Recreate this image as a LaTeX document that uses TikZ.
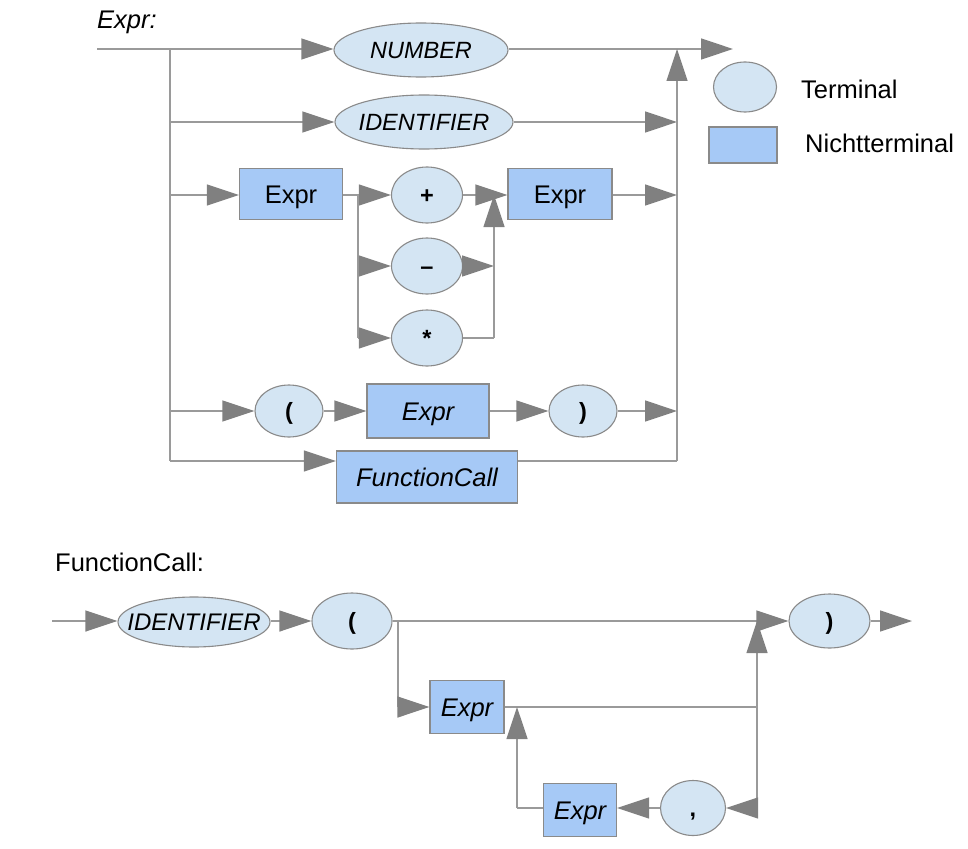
\documentclass[tikz,border=0pt]{standalone}
\usepackage{fontspec}
\setmainfont{Liberation Sans}
\usetikzlibrary{shapes.geometric,arrows.meta}
\definecolor{termfill}{HTML}{D4E5F3}
\definecolor{ntfill}{HTML}{A6C9F6}
\definecolor{bordergray}{HTML}{8A8A8A}
\definecolor{linegray}{HTML}{9A9A9A}
\definecolor{arrowgray}{HTML}{808080}
\begin{document}
\begin{tikzpicture}[x=1pt,y=-1pt,
  font=\fontsize{25.5}{30}\selectfont,
  term/.style={ellipse,draw=bordergray,fill=termfill,line width=1.1pt,inner sep=0pt,
    font=\fontsize{23.5}{27}\selectfont,text height=16.8pt,text depth=0pt},
  nterm/.style={rectangle,draw=bordergray,fill=ntfill,line width=1.1pt,inner sep=0pt,
    text height=18.3pt,text depth=0pt},
  lbl/.style={anchor=west,inner sep=0pt},
  conn/.style={draw=linegray,line width=1.3pt},
  arr/.style={conn,-{Triangle[length=32pt,width=21pt,color=arrowgray]}},
]
\useasboundingbox (0,0) rectangle (968,848);

% ---------- Expr ----------
\node[lbl] (exprlbl) at (97,22) {\itshape Expr:};
\node[term,minimum width=174pt,minimum height=54pt] (num) at (421,50) {\makebox[0pt]{\itshape NUMBER}};
\node[term,minimum width=178pt,minimum height=54pt] (idt) at (424,122) {\makebox[0pt]{\itshape IDENTIFIER}};
\node[nterm,minimum width=103pt,minimum height=51pt] (ea) at (291,194) {Expr};
\node[term,minimum width=71pt,minimum height=56pt] (plus) at (427,195) {\bfseries +};
\node[term,minimum width=71pt,minimum height=56pt] (minus) at (427,266) {\bfseries –};
\node[term,minimum width=71pt,minimum height=56pt] (times) at (427,338) {\bfseries *};
\node[nterm,minimum width=104pt,minimum height=51pt] (eb) at (560,194) {Expr};
\node[term,minimum width=68pt,minimum height=52pt] (lpa) at (289,411) {\bfseries (};
\node[nterm,minimum width=122pt,minimum height=54pt] (ec) at (428,411) {\itshape Expr};
\node[term,minimum width=68pt,minimum height=52pt] (rpa) at (583,411) {\bfseries )};
\node[nterm,minimum width=181pt,minimum height=52pt] (fc) at (427,477) {\itshape FunctionCall};

\coordinate (s0) at (97,49);
\coordinate (l1) at (170,49);
\coordinate (l2) at (170,122);
\coordinate (l3) at (170,195);
\coordinate (l4) at (170,411);
\coordinate (l5) at (170,461);
\coordinate (r0) at (677,49);
\coordinate (r2) at (677,122);
\coordinate (r3) at (677,195);
\coordinate (r4) at (677,411);
\coordinate (r5) at (677,461);
\coordinate (out) at (733,49);
\coordinate (fa) at (358,195);
\coordinate (fb) at (358,266);
\coordinate (fcc) at (358,338);
\coordinate (ma) at (494,195);
\coordinate (mb) at (494,266);
\coordinate (mc) at (494,338);

\draw[arr] (s0) -- (s0 -| num.west);
\draw[conn] (l1) -- (l5);
\draw[arr] (l2) -- (idt);
\draw[arr] (l3) -- (l3 -| ea.west);
\draw[arr] (l4) -- (lpa);
\draw[arr] (l5) -- (l5 -| fc.west);
\draw[arr] (out -| num.east) -- (out);
\draw[arr] (idt) -- (r2);
\draw[conn] (fc.east |- r5) -- (r5);
\draw[arr] (r5) -- (r0);
\draw[conn] (fa -| ea.east) -- (fa);
\draw[arr] (fa) -- (plus);
\draw[conn] (fa) -- (fcc);
\draw[arr] (fb) -- (minus);
\draw[arr] (fcc) -- (times);
\draw[arr] (plus) -- (ma -| eb.west);
\draw[arr] (minus) -- (mb);
\draw[conn] (times) -- (mc);
\draw[arr] (mc) -- (ma);
\draw[arr] (r3 -| eb.east) -- (r3);
\draw[arr] (lpa) -- (ec);
\draw[arr] (ec) -- (rpa);
\draw[arr] (rpa) -- (r4);

% ---------- Legend ----------
\node[term,minimum width=63pt,minimum height=50pt] (lt) at (745,87) {};
\node[lbl] (ltx) at (801,89) {Terminal};
\node[nterm,minimum width=68pt,minimum height=36pt] (ln) at (743,145) {};
\node[lbl] (lnx) at (805,143) {Nichtterminal};

% ---------- FunctionCall ----------
\node[lbl] (fclbl) at (55,562) {FunctionCall:};
\coordinate (s1) at (52,621);
\node[term,minimum width=152pt,minimum height=50pt,font=\fontsize{24}{28}\selectfont] (id2) at (194,622) {\makebox[0pt]{\itshape IDENTIFIER}};
\node[term,minimum width=80pt,minimum height=56pt] (lp2) at (352,621) {\bfseries (};
\node[term,minimum width=81pt,minimum height=54pt] (rp2) at (829.5,621) {\bfseries )};
\coordinate (o2) at (912,621);
\coordinate (g1) at (398,621);
\coordinate (g2) at (398,707);
\node[nterm,minimum width=74pt,minimum height=53pt] (ed) at (467,707) {\itshape Expr};
\coordinate (v1) at (757,621);
\coordinate (v2) at (757,707);
\coordinate (v3) at (757,808);
\node[term,minimum width=65pt,minimum height=55pt] (cm) at (693,808) {\bfseries ,};
\node[nterm,minimum width=73pt,minimum height=53pt] (ee) at (580,810) {\itshape Expr};
\coordinate (u1) at (517,808);
\coordinate (u2) at (517,707);

\draw[arr] (s1) -- (s1 -| id2.west);
\draw[arr] (s1 -| id2.east) -- (lp2);
\draw[arr] (lp2) -- (rp2);
\draw[arr] (rp2) -- (o2);
\draw[conn] (g1) -- (g2);
\draw[arr] (g2) -- (ed);
\draw[conn] (ed) -- (v2);
\draw[arr] (v3) -- (v1);
\draw[arr] (v3) -- (cm);
\draw[arr] (cm) -- (ee.east |- cm);
\draw[conn] (ee.west |- u1) -- (u1);
\draw[arr] (u1) -- (u2);
\end{tikzpicture}
\end{document}
